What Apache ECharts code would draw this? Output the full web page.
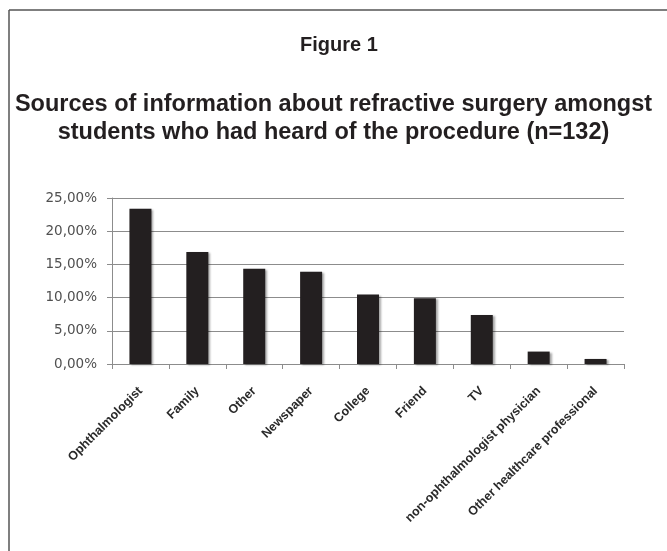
<!DOCTYPE html>
<html>
<head>
<meta charset="utf-8">
<script src="https://cdn.jsdelivr.net/npm/echarts@6/dist/echarts.min.js"></script>
<style>
html,body{margin:0;padding:0;background:#fff;}
#c{width:667px;height:551px;}
</style>
</head>
<body>
<div id="c"></div>
<script>
var categories = ["Ophthalmologist","Family","Other","Newspaper","College","Friend","TV","non-ophthalmologist physician","Other healthcare professional"];
var values = [23.38, 16.87, 14.34, 13.89, 10.45, 9.90, 7.37, 1.87, 0.76];
var yTicks = [0, 5, 10, 15, 20, 25];
var figureTitle = "Figure 1";
var chartTitle = "Sources of information about refractive surgery amongst\nstudents who had heard of the procedure (n=132)";

var chart = echarts.init(document.getElementById('c'), null, {renderer:'canvas'});
chart.setOption({
  backgroundColor: '#ffffff',
  animation: false,
  title: [
    {text: figureTitle, left: 295, top: 30,
     textStyle: {fontFamily: 'Liberation Sans, Arial, sans-serif', fontWeight: 'bold', fontSize: 20, color: '#231f20'}},
    {text: chartTitle, left: 'center', top: 86,
     textStyle: {fontFamily: 'Liberation Sans, Arial, sans-serif', fontWeight: 'bold', fontSize: 23.5, lineHeight: 28, color: '#231f20', align: 'center'}}
  ],
  graphic: [
    {type: 'line', shape: {x1: 9, y1: 10, x2: 667, y2: 10}, style: {stroke: '#555', lineWidth: 1.5}},
    {type: 'line', shape: {x1: 9, y1: 10, x2: 9, y2: 551}, style: {stroke: '#555', lineWidth: 1.5}}
  ],
  grid: {left: 112, right: 43, top: 198, bottom: 187, containLabel: false},
  xAxis: {
    type: 'category',
    data: categories,
    axisLine: {lineStyle: {color: '#8c8c8c', width: 1}},
    axisTick: {show: true, alignWithLabel: false, length: 5, lineStyle: {color: '#8c8c8c'}},
    axisLabel: {rotate: 45, interval: 0, margin: 25, fontFamily: 'Liberation Sans, Arial, sans-serif', fontWeight: 'bold', fontSize: 12.5, color: '#2a2a2a'}
  },
  yAxis: {
    type: 'value',
    min: yTicks[0],
    max: yTicks[yTicks.length - 1],
    interval: yTicks[1] - yTicks[0],
    axisLine: {show: true, lineStyle: {color: '#8c8c8c', width: 1}},
    axisTick: {show: true, length: 5, lineStyle: {color: '#8c8c8c'}},
    splitLine: {lineStyle: {color: '#8c8c8c', width: 1}},
    axisLabel: {margin: 15, fontFamily: 'DejaVu Sans, sans-serif', fontSize: 13.5, color: '#505050',
      formatter: function (v) { return v.toFixed(2).replace('.', ',') + '%'; }}
  },
  series: [{
    type: 'bar',
    data: values,
    barWidth: 22,
    itemStyle: {color: '#231f20', shadowColor: 'rgba(0,0,0,0.35)', shadowBlur: 2, shadowOffsetX: 2, shadowOffsetY: 1}
  }]
});
</script>
</body>
</html>
